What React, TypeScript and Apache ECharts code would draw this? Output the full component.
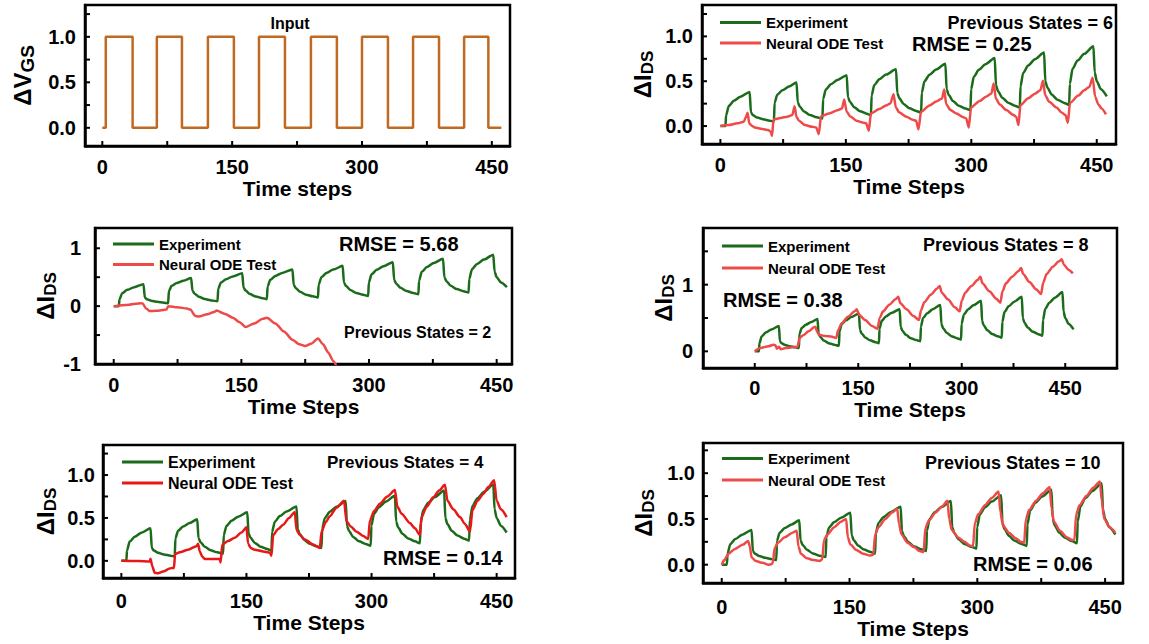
import React, { useEffect, useRef } from 'react';
import * as echarts from 'echarts';

const FONT = '"Liberation Sans", Arial, Helvetica, sans-serif';

// ---------- tick values / labels ----------
const timeTicks = [0, 75, 150, 225, 300, 375, 450];
const timeLabels = [0, 150, 300, 450];
const unitTicks = [0, 0.25, 0.5, 0.75, 1, 1.25];
const unitLabels = [0, 0.5, 1];
const wideTicks = [-1, -0.5, 0, 0.5, 1];
const wideLabels = [-1, 0, 1];
const tallTicks = [0, 0.5, 1, 1.5];
const tallLabels = [0, 1];

// ---------- data: [time step, value] ----------
const inputWave: number[][] = [
  [0, 0], [4, 0], [4, 1], [35, 1], [35, 0], [63, 0], [63, 1], [92, 1], [92, 0],
  [122, 0], [122, 1], [152, 1], [152, 0], [181, 0], [181, 1], [211, 1], [211, 0],
  [241, 0], [241, 1], [271, 1], [271, 0], [300, 0], [300, 1], [330, 1], [330, 0],
  [359, 0], [359, 1], [389, 1], [389, 0], [418, 0], [418, 1], [446, 1], [446, 0], [461, 0],
];

const experiment: number[][] = [
  [0, 0], [6, 0], [6.8, 0.12], [10, 0.224], [16, 0.281], [24, 0.328], [35, 0.38],
  [36.5, 0.15], [39, 0.12], [44, 0.095], [51, 0.075], [59, 0.06], [64, 0.05],
  [64.8, 0.26], [68, 0.35], [74, 0.4], [82, 0.44], [91, 0.485],
  [92.5, 0.264], [95, 0.216], [100, 0.163], [107, 0.123], [115, 0.099], [122, 0.083],
  [122.8, 0.3], [126, 0.407], [132, 0.466], [140, 0.514], [151, 0.567],
  [152.5, 0.321], [155, 0.268], [160, 0.209], [167, 0.165], [175, 0.138], [180, 0.12],
  [180.8, 0.34], [184, 0.457], [190, 0.522], [198, 0.574], [210, 0.633],
  [211.5, 0.367], [214, 0.309], [219, 0.247], [226, 0.198], [234, 0.169], [240, 0.15],
  [240.8, 0.37], [244, 0.5], [250, 0.572], [258, 0.631], [269, 0.696],
  [270.5, 0.409], [273, 0.347], [278, 0.279], [285, 0.227], [293, 0.196], [299, 0.175],
  [299.8, 0.41], [303, 0.55], [309, 0.627], [317, 0.69], [328, 0.76],
  [329.5, 0.455], [332, 0.388], [337, 0.316], [344, 0.261], [352, 0.227], [358, 0.205],
  [358.8, 0.44], [362, 0.592], [368, 0.676], [376, 0.744], [387, 0.82],
  [388.5, 0.498], [391, 0.428], [396, 0.352], [403, 0.294], [411, 0.258], [417, 0.235],
  [417.8, 0.47], [421, 0.638], [427, 0.73], [435, 0.805], [446, 0.889],
  [447.5, 0.6], [450, 0.5], [455, 0.41], [462, 0.33],
];

const neuralODE6: number[][] = [
  [0, 0], [10, 0.012], [20, 0.03], [28, 0.048], [30.5, 0.1], [32.5, 0.148], [34.5, 0.03],
  [38, 0.0], [41, -0.015], [50, -0.032], [57, -0.044], [60, -0.06], [61.7, -0.11],
  [63.6, 0.074], [72, 0.09], [80, 0.105], [86, 0.122], [88.7, 0.222], [91, 0.1], [94, 0.06],
  [101, 0.011], [110, -0.008], [114.5, -0.015], [117.6, -0.09],
  [120.3, 0.11], [130, 0.14], [140, 0.175], [145.4, 0.196], [148, 0.296], [151, 0.16], [155, 0.11],
  [162.7, 0.06], [170, 0.04], [174.3, 0.03], [177.4, -0.052],
  [180, 0.14], [190, 0.19], [198, 0.23], [203.2, 0.252], [207, 0.356], [209.8, 0.207], [214, 0.15],
  [222.5, 0.104], [230, 0.07], [234, 0.059], [236.8, -0.037],
  [239.9, 0.159], [250, 0.23], [258, 0.275], [265, 0.307], [267.6, 0.407], [270, 0.244], [275, 0.18],
  [282.3, 0.14], [290, 0.1], [293.9, 0.085], [297, -0.015],
  [299.7, 0.207], [310, 0.28], [318, 0.33], [324, 0.363], [326.7, 0.474], [329.4, 0.307], [334, 0.24],
  [342, 0.178], [350, 0.125], [353.7, 0.104], [356.4, 0.011],
  [358.7, 0.233], [368, 0.31], [376, 0.36], [382.6, 0.4], [385.7, 0.504], [388.4, 0.344], [393, 0.27],
  [401.9, 0.207], [408, 0.15], [412.7, 0.122], [415.4, 0.037],
  [418, 0.259], [428, 0.34], [435, 0.4], [441.2, 0.437], [445, 0.54], [448.1, 0.326], [452, 0.24],
  [455.8, 0.196], [461, 0.13],
];

const neuralODE2: number[][] = [
  [0, 0], [15, 0.02], [32, 0.05], [34, 0.045], [38, -0.04], [42, -0.085], [50, -0.08], [62, -0.06],
  [64, 0.0], [75, -0.02], [86, -0.04], [90, -0.06], [96, -0.17], [100, -0.18], [110, -0.14],
  [118, -0.1], [121, -0.075], [130, -0.13], [140, -0.2], [148, -0.28], [155, -0.36], [165, -0.3],
  [175, -0.22], [180, -0.2], [190, -0.3], [200, -0.44], [210, -0.58], [218, -0.66], [225, -0.69],
  [232, -0.65], [240, -0.56], [246, -0.66], [252, -0.8], [258, -0.95], [262, -1.05],
];

const neuralODE8: number[][] = [
  [0, 0], [8, 0.05], [20, 0.075], [27, 0.1], [30, 0.09], [32, 0.04], [35, 0.07], [38, 0.03],
  [45, 0.05], [55, 0.06], [62, 0.07],
  [65, 0.2], [70, 0.24], [78, 0.3], [86, 0.36], [88, 0.37], [90, 0.3], [93, 0.25], [102, 0.23],
  [112, 0.22], [118, 0.2],
  [121, 0.32], [126, 0.42], [135, 0.52], [145, 0.6], [148, 0.63], [151, 0.55], [160, 0.47], [170, 0.38], [178, 0.34],
  [181, 0.5], [186, 0.6], [195, 0.7], [204, 0.78], [208, 0.82], [211, 0.72], [220, 0.63], [230, 0.53], [238, 0.47],
  [241, 0.62], [246, 0.74], [255, 0.85], [264, 0.94], [268, 0.98], [271, 0.88], [280, 0.78], [290, 0.66], [297, 0.6],
  [300, 0.76], [305, 0.88], [314, 0.98], [323, 1.07], [327, 1.12], [330, 1.02], [340, 0.9], [350, 0.79], [356, 0.73],
  [359, 0.9], [364, 1.02], [373, 1.12], [382, 1.2], [386, 1.25], [389, 1.16], [398, 1.04], [408, 0.93], [415, 0.86],
  [418, 1.03], [423, 1.16], [432, 1.27], [441, 1.35], [445, 1.38], [448, 1.3], [455, 1.22], [461, 1.17],
];

const neuralODE4: number[][] = [
  [0, 0], [20, -0.003], [34, -0.008], [35, 0.025], [37, -0.06], [40, -0.14], [44, -0.145], [50, -0.125],
  [58, -0.09], [62, -0.08], [63, -0.085],
  [64.5, 0.08], [70, 0.1], [80, 0.13], [90, 0.17], [92, 0.2], [94, 0.11], [97, 0.05], [100, 0.02],
  [110, 0.02], [118, 0.02], [119, -0.02],
  [121, 0.19], [128, 0.23], [136, 0.27], [144, 0.33], [150, 0.39], [152, 0.2], [155, 0.15], [160, 0.13],
  [170, 0.11], [178, 0.095], [180, 0.06],
  [182, 0.3], [188, 0.37], [194, 0.42], [201, 0.5], [208, 0.57], [210, 0.36], [214, 0.3], [220, 0.25],
  [230, 0.19], [238, 0.15],
  [240, 0.34], [245, 0.45], [250, 0.52], [258, 0.62], [267, 0.7], [270, 0.46], [275, 0.4], [282, 0.34],
  [290, 0.29], [296, 0.255],
  [298, 0.47], [303, 0.58], [310, 0.665], [319, 0.75], [328, 0.825], [331, 0.63], [336, 0.55], [346, 0.44],
  [352, 0.38], [358, 0.3],
  [360, 0.51], [366, 0.63], [374, 0.74], [381, 0.82], [388, 0.886], [391, 0.7], [398, 0.6], [406, 0.51],
  [412, 0.43], [418, 0.34],
  [421, 0.59], [427, 0.7], [434, 0.78], [440, 0.86], [447, 0.94], [450, 0.7], [455, 0.6], [462, 0.51],
];

const neuralODE10: number[][] = [
  [0, 0], [3, 0.05], [8, 0.12], [15, 0.17], [25, 0.22], [31, 0.26], [33, 0.2], [35, 0.08], [40, 0.04],
  [48, 0.02], [55, 0.0], [58, 0.005], [60, 0.02],
  [62, 0.18], [66, 0.24], [74, 0.3], [83, 0.35], [88, 0.37], [90, 0.2], [93, 0.12], [100, 0.07],
  [108, 0.05], [115, 0.04], [118, 0.06],
  [120, 0.27], [124, 0.33], [132, 0.41], [140, 0.47], [146, 0.5], [148, 0.3], [151, 0.22], [158, 0.16],
  [166, 0.12], [174, 0.1], [178, 0.11],
  [180, 0.33], [184, 0.41], [192, 0.5], [200, 0.57], [206, 0.61], [208, 0.45], [211, 0.33], [218, 0.24],
  [226, 0.19], [232, 0.15], [237, 0.14],
  [239, 0.4], [243, 0.48], [251, 0.57], [259, 0.64], [265, 0.7], [267, 0.5], [270, 0.38], [277, 0.3],
  [285, 0.25], [291, 0.21], [295, 0.2],
  [297, 0.45], [301, 0.55], [309, 0.65], [317, 0.73], [325, 0.8], [327, 0.58], [330, 0.43], [337, 0.35],
  [345, 0.29], [351, 0.25], [355, 0.24],
  [357, 0.5], [361, 0.6], [369, 0.7], [377, 0.78], [385, 0.85], [387, 0.62], [390, 0.47], [397, 0.37],
  [405, 0.3], [411, 0.27], [414, 0.27],
  [416, 0.55], [420, 0.65], [428, 0.75], [436, 0.84], [444, 0.91], [446, 0.7], [449, 0.5], [455, 0.41],
  [462, 0.35],
];

// ---------- styling ----------
const GREEN = '#1a6b1a';
const LIGHT_RED = '#ef4a4a';
const PURE_RED = '#e81818';
const ORANGE = '#bf6a20';

type Panel = {
  grid: { left: number; top: number; width: number; height: number };
  x: [number, number];
  y: [number, number];
  yTicks: number[];
  yLabels: number[];
  dec: number;
  yName: string;
  subSize: number;
  yNameGap: number;
  xName: string;
  xNameGap: number;
  xLabelMargin: number;
  yLabelMargin: number;
};

const panels: Panel[] = [
  { grid: { left: 85, top: 5, width: 425, height: 141 }, x: [-20, 471], y: [-0.2, 1.35], yTicks: unitTicks, yLabels: unitLabels, dec: 1, yName: '{a|ΔV}{b|GS}', subSize: 19, yNameGap: 48, xName: 'Time steps', xNameGap: 32, xLabelMargin: 11, yLabelMargin: 9 },
  { grid: { left: 702, top: 5, width: 414, height: 139 }, x: [-22, 473], y: [-0.2, 1.35], yTicks: unitTicks, yLabels: unitLabels, dec: 1, yName: '{a|ΔI}{b|DS}', subSize: 17, yNameGap: 46, xName: 'Time Steps', xNameGap: 32, xLabelMargin: 11, yLabelMargin: 9 },
  { grid: { left: 95, top: 228, width: 417, height: 136 }, x: [-22, 468], y: [-1, 1.35], yTicks: wideTicks, yLabels: wideLabels, dec: 0, yName: '{a|ΔI}{b|DS}', subSize: 17, yNameGap: 34, xName: 'Time Steps', xNameGap: 30, xLabelMargin: 11, yLabelMargin: 14 },
  { grid: { left: 703, top: 228, width: 414, height: 140 }, x: [-75, 525], y: [-0.25, 1.85], yTicks: tallTicks, yLabels: tallLabels, dec: 0, yName: '{a|ΔI}{b|DS}', subSize: 17, yNameGap: 26, xName: 'Time Steps', xNameGap: 30, xLabelMargin: 10, yLabelMargin: 10 },
  { grid: { left: 103, top: 445, width: 412, height: 133 }, x: [-22, 472], y: [-0.2, 1.35], yTicks: unitTicks, yLabels: unitLabels, dec: 1, yName: '{a|ΔI}{b|DS}', subSize: 17, yNameGap: 44, xName: 'Time Steps', xNameGap: 31, xLabelMargin: 13, yLabelMargin: 8 },
  { grid: { left: 703, top: 443, width: 420, height: 140 }, x: [-22, 471], y: [-0.2, 1.33], yTicks: unitTicks, yLabels: unitLabels, dec: 1, yName: '{a|ΔI}{b|DS}', subSize: 17, yNameGap: 46, xName: 'Time Steps', xNameGap: 32, xLabelMargin: 14, yLabelMargin: 8 },
];

const TICK_LEN = 5;

const lineSeries = (name: string, data: number[][], idx: number, color: string, smooth = 0.25) => ({
  type: 'line',
  name,
  data,
  xAxisIndex: idx,
  yAxisIndex: idx,
  showSymbol: false,
  symbol: 'none',
  smooth,
  smoothMonotone: 'x',
  clip: true,
  color,
  lineStyle: { color, width: 2.5 },
  emphasis: { disabled: true },
  silent: true,
});

// inner tick marks, placed through the axes' own scales (api.coord)
const tickSeries = (p: Panel, idx: number) => ({
  type: 'custom',
  name: 'ticks',
  xAxisIndex: idx,
  yAxisIndex: idx,
  data: [[p.x[0], p.y[0]]],
  silent: true,
  clip: false,
  z: 5,
  renderItem: (_params: any, api: any) => {
    const children: any[] = [];
    const st = { stroke: '#000', lineWidth: 2 };
    timeTicks.forEach((v) => {
      const [px, py] = api.coord([v, p.y[0]]);
      children.push({ type: 'line', shape: { x1: px, y1: py, x2: px, y2: py - TICK_LEN }, style: st });
    });
    p.yTicks.forEach((v) => {
      const [px, py] = api.coord([p.x[0], v]);
      children.push({ type: 'line', shape: { x1: px, y1: py, x2: px + TICK_LEN, y2: py }, style: st });
    });
    return { type: 'group', children };
  },
});

const legendFor = (left: number, top: number, red: string, fontSize: number, gap: number) => ({
  show: true,
  orient: 'vertical',
  left,
  top,
  padding: 0,
  itemWidth: 41,
  itemHeight: 3,
  itemGap: gap,
  icon: 'rect',
  selectedMode: false,
  textStyle: { fontSize, fontWeight: 'bold', color: '#000', fontFamily: FONT },
  data: [
    { name: 'Experiment', itemStyle: { color: GREEN } },
    { name: 'Neural ODE Test', itemStyle: { color: red } },
  ],
});

const txt = (text: string, x: number, y: number, size: number, align = 'left') => ({
  type: 'text',
  x,
  y,
  silent: true,
  style: {
    text,
    font: `bold ${size}px ${FONT}`,
    fill: '#000',
    align,
    verticalAlign: 'middle',
  },
});

function buildOption() {
  const grids = panels.map((p) => ({
    ...p.grid,
    show: true,
    borderColor: '#000',
    borderWidth: 2.5,
    backgroundColor: 'transparent',
    containLabel: false,
  }));
  const xAxes = panels.map((p, i) => ({
    type: 'value',
    gridIndex: i,
    position: 'bottom',
    min: p.x[0],
    max: p.x[1],
    name: p.xName,
    nameLocation: 'middle',
    nameGap: p.xNameGap,
    nameTextStyle: { fontSize: 21, fontWeight: 'bold', color: '#000', fontFamily: FONT },
    axisLine: { show: true, onZero: false, lineStyle: { color: '#000', width: 2.5 } },
    axisTick: { show: false },
    axisLabel: { show: true, margin: p.xLabelMargin, fontSize: 20, fontWeight: 'bold', color: '#000', fontFamily: FONT, customValues: timeLabels, formatter: (v: number) => String(v) },
    splitLine: { show: false },
  }));
  const yAxes = panels.map((p, i) => ({
    type: 'value',
    gridIndex: i,
    position: 'left',
    min: p.y[0],
    max: p.y[1],
    name: p.yName,
    nameLocation: 'middle',
    nameRotate: 90,
    nameGap: p.yNameGap,
    nameTextStyle: {
      color: '#000',
      fontFamily: FONT,
      rich: {
        a: { fontSize: 24, fontWeight: 'bold', color: '#000', fontFamily: FONT },
        b: { fontSize: p.subSize, fontWeight: 'bold', color: '#000', fontFamily: FONT, padding: [10, 0, 0, 0] },
      },
    },
    axisLine: { show: true, onZero: false, lineStyle: { color: '#000', width: 2.5 } },
    axisTick: { show: false },
    axisLabel: {
      show: true,
      margin: p.yLabelMargin,
      fontSize: 20,
      fontWeight: 'bold',
      color: '#000',
      fontFamily: FONT,
      customValues: p.yLabels,
      formatter: (v: number) => (p.dec ? v.toFixed(1) : String(Math.round(v))),
    },
    splitLine: { show: false },
  }));

  const series: any[] = [
    { ...lineSeries('Input', inputWave, 0, ORANGE, 0), smooth: false },
    lineSeries('Experiment', experiment, 1, GREEN),
    lineSeries('Neural ODE Test', neuralODE6, 1, LIGHT_RED),
    lineSeries('Experiment', experiment, 2, GREEN),
    lineSeries('Neural ODE Test', neuralODE2, 2, LIGHT_RED),
    lineSeries('Experiment', experiment, 3, GREEN),
    lineSeries('Neural ODE Test', neuralODE8, 3, LIGHT_RED),
    lineSeries('Experiment', experiment, 4, GREEN),
    lineSeries('Neural ODE Test', neuralODE4, 4, PURE_RED),
    lineSeries('Experiment', experiment, 5, GREEN),
    lineSeries('Neural ODE Test', neuralODE10, 5, LIGHT_RED),
    ...panels.map((p, i) => tickSeries(p, i)),
  ];

  return {
    animation: false,
    backgroundColor: '#fff',
    textStyle: { fontFamily: FONT },
    grid: grids,
    xAxis: xAxes,
    yAxis: yAxes,
    legend: [
      legendFor(720, 15, LIGHT_RED, 15, 5.5),
      legendFor(113, 236.5, LIGHT_RED, 15, 5.5),
      legendFor(722, 238.5, LIGHT_RED, 15, 7),
      legendFor(122, 454, PURE_RED, 16, 5),
      legendFor(722, 451, LIGHT_RED, 15, 6.5),
    ],
    graphic: [
      txt('Input', 290, 23, 16, 'center'),
      txt('Previous States = 6', 1113, 23, 18, 'right'),
      txt('RMSE = 0.25', 912, 44, 20),
      txt('RMSE = 5.68', 339, 244, 20),
      txt('Previous States = 2', 344, 332, 16),
      txt('Previous States = 8', 923, 245, 18),
      txt('RMSE = 0.38', 723, 300, 20),
      txt('Previous States = 4', 327, 462, 17),
      txt('RMSE = 0.14', 383, 558, 20),
      txt('Previous States = 10', 925, 463, 18),
      txt('RMSE = 0.06', 973, 564, 20),
    ],
    series,
  };
}

export default function App() {
  const ref = useRef<HTMLDivElement>(null);
  useEffect(() => {
    if (!ref.current) return;
    const chart = echarts.init(ref.current, null, { renderer: 'svg' });
    chart.setOption(buildOption() as any);
    return () => {
      chart.dispose();
    };
  }, []);
  return (
    <div
      ref={ref}
      style={{ position: 'absolute', left: 0, top: 0, width: 1149, height: 644, background: '#fff' }}
    />
  );
}
